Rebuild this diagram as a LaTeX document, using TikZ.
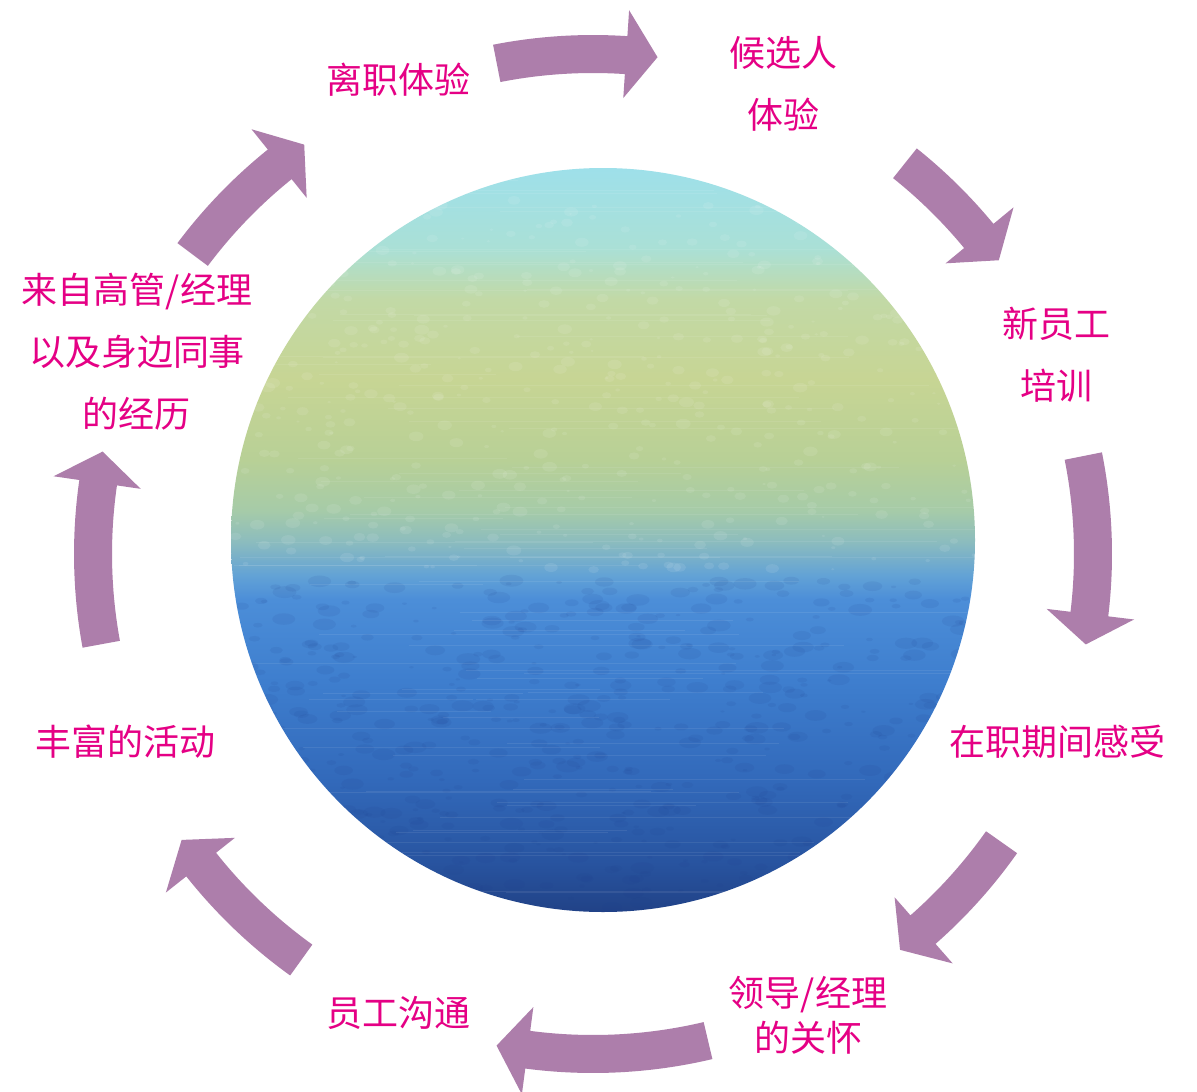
\documentclass[tikz,border=0pt]{standalone}
\usepackage{fontspec}
\newfontfamily\cjk{Noto Sans CJK SC}
\definecolor{arrowc}{RGB}{173,126,171}
\definecolor{labelc}{RGB}{229,0,133}
\definecolor{o1}{RGB}{33,66,135}
\definecolor{o2}{RGB}{40,84,160}
\definecolor{o3}{RGB}{50,105,186}
\definecolor{o4}{RGB}{62,126,206}
\definecolor{o5}{RGB}{76,142,216}
\definecolor{o6}{RGB}{98,162,214}
\definecolor{o7}{RGB}{140,188,190}
\definecolor{o8}{RGB}{166,203,168}
\definecolor{o9}{RGB}{184,208,150}
\definecolor{o10}{RGB}{199,213,148}
\definecolor{o11}{RGB}{194,217,166}
\definecolor{o12}{RGB}{170,224,214}
\definecolor{o13}{RGB}{158,224,234}
\definecolor{darkspot}{RGB}{30,60,140}
\pgfdeclareverticalshading{orb}{100bp}{%
color(0bp)=(o1); color(25bp)=(o1); color(28.4bp)=(o2); color(33.8bp)=(o3);
color(40.5bp)=(o4); color(46bp)=(o5); color(47.6bp)=(o6); color(49.9bp)=(o7);
color(52bp)=(o8); color(55.4bp)=(o9); color(60.8bp)=(o10); color(66.2bp)=(o11);
color(69.6bp)=(o12); color(75bp)=(o13); color(100bp)=(o13)}
\newcommand\cyclearrow[3]{%
  \fill[arrowc] (#1:519) arc[start angle=#1, end angle=#2, radius=519pt]
    -- (#2:545) -- (#3:501) -- (#2:457) -- (#2:481)
    arc[start angle=#2, end angle=#1, radius=481pt] -- cycle;}
\tikzset{lbl/.style={text=labelc, font=\cjk\fontsize{36}{62}\selectfont, align=center, inner sep=0pt}}
\begin{document}
\begin{tikzpicture}[x=1pt,y=1pt]
\useasboundingbox (0,0) rectangle (1197,-1092);
\fill[white] (0,0) rectangle (1197,-1092);
% central orb
\shade[shading=orb] (603,-540) circle[radius=372pt];
\begin{scope}
  \clip (603,-540) circle[radius=372pt];
  \pgfmathsetseed{7}
  % fine light mottling in the upper (cyan / green) part
  \foreach \i in {1,...,500} {
    \pgfmathsetmacro\px{230+rnd*746}
    \pgfmathsetmacro\py{-(200+rnd*370)}
    \pgfmathsetmacro\pr{1+rnd*4}
    \fill[white, opacity=0.09] (\px,\py) ellipse[x radius=1.5*\pr pt, y radius=\pr pt];
  }
  % fine dark mottling in the lower (blue) part
  \foreach \i in {1,...,600} {
    \pgfmathsetmacro\px{230+rnd*746}
    \pgfmathsetmacro\py{-(580+rnd*330)}
    \pgfmathsetmacro\pr{1+rnd*5}
    \fill[darkspot, opacity=0.09] (\px,\py) ellipse[x radius=2*\pr pt, y radius=\pr pt];
  }
  % faint horizontal brush streaks
  \foreach \i in {1,...,80} {
    \pgfmathsetmacro\py{-(180+rnd*720)}
    \pgfmathsetmacro\pa{230+rnd*300}
    \pgfmathsetmacro\pb{\pa+150+rnd*450}
    \draw[white, opacity=0.08, line width=0.5pt] (\pa,\py) -- (\pb,\py);
  }
\end{scope}
% arrows
\begin{scope}[shift={(593,-554)}]
  \cyclearrow{101.1}{86.2}{82.6}
  \cyclearrow{51.4}{39.5}{35.9}
  \cyclearrow{11.3}{-6.9}{-10.4}
  \cyclearrow{-35.2}{-48.7}{-52.2}
  \cyclearrow{-76.7}{-97.5}{-101.1}
  \cyclearrow{-125.7}{-141.6}{-145.2}
  \cyclearrow{190.4}{171.8}{168.2}
  \cyclearrow{143.2}{128.8}{125.2}
\end{scope}
% labels
\node[lbl] (lizhi) at (398,-80) {离职体验};
\node[lbl] (houxuan) at (783,-84) {候选人\\体验};
\node[lbl] (xinyuan) at (1056,-355) {新员工\\培训};
\node[lbl] (zaizhi) at (1057,-742) {在职期间感受};
\node[lbl, font=\cjk\fontsize{36}{45}\selectfont] (lingdao) at (808,-1015) {领导/经理\\的关怀};
\node[lbl] (goutong) at (398,-1013) {员工沟通};
\node[lbl] (huodong) at (125,-742) {丰富的活动};
\node[lbl] (gaoguan) at (137,-352) {来自高管/经理\\以及身边同事\\的经历};
\end{tikzpicture}
\end{document}
